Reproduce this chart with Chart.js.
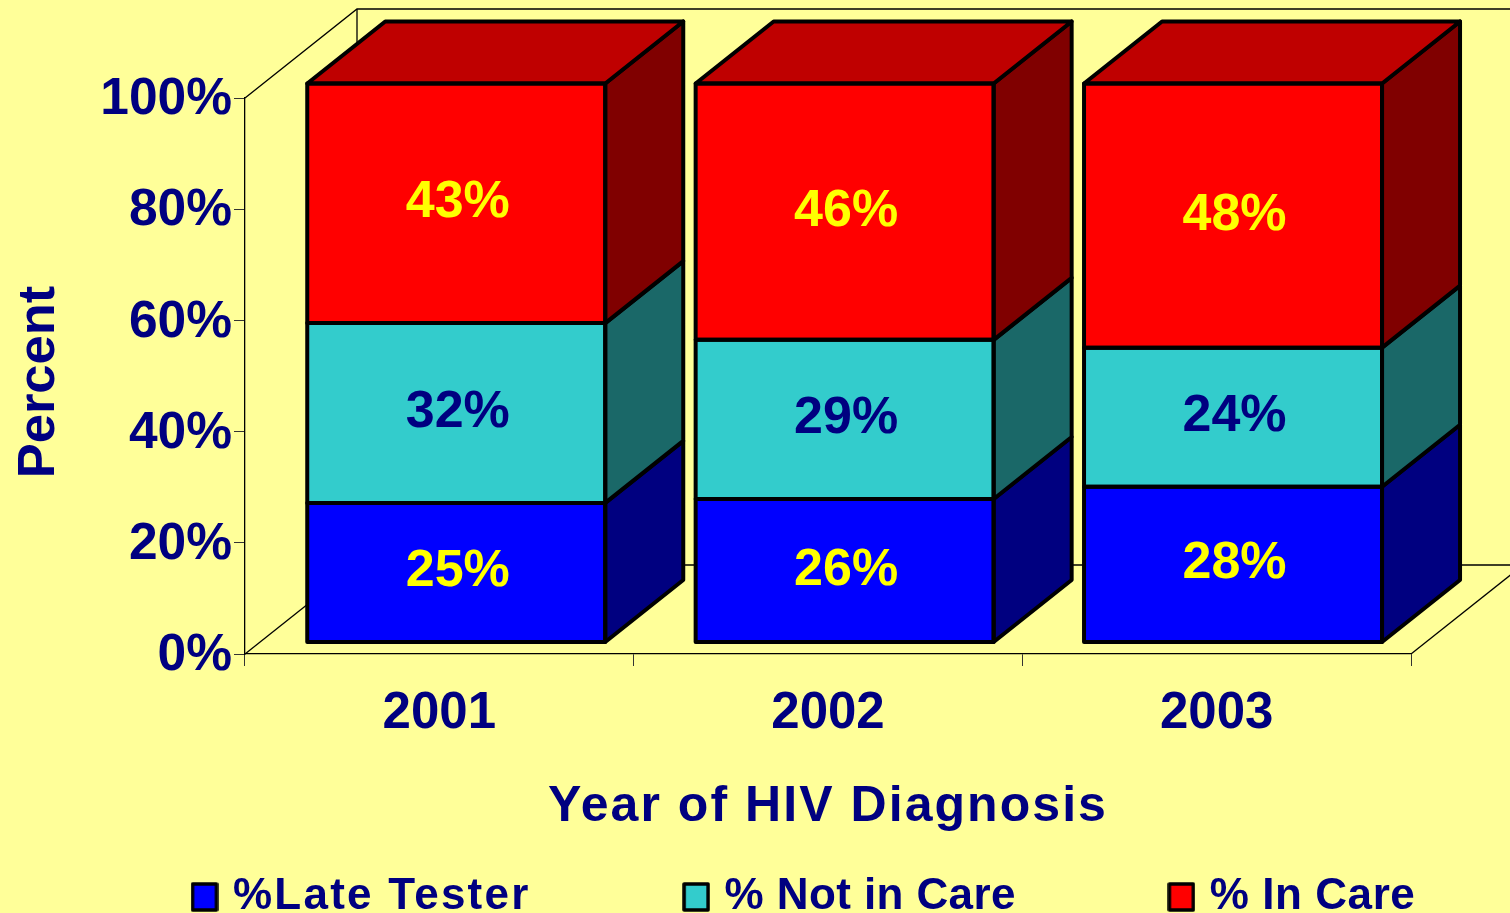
<!DOCTYPE html>
<html><head><meta charset="utf-8">
<style>html,body{margin:0;padding:0;background:#FFFF99;overflow:hidden}canvas{display:block}</style>
<script src="https://cdn.jsdelivr.net/npm/chart.js@4/dist/chart.umd.min.js"></script>
</head><body><canvas id="c" width="1510" height="913"></canvas>
<script>
const categories = ['2001', '2002', '2003'];
const yearValues = [2001, 2002, 2003];
const seriesNames = ['%Late Tester', '% Not in Care', '% In Care'];
const lateTester = [24.9, 25.6, 27.8];
const notInCare = [32.2, 28.5, 24.9];
const inCare = [42.9, 45.9, 47.3];
const lateLabels = ['25%', '26%', '28%'];
const notInCareLabels = ['32%', '29%', '24%'];
const inCareLabels = ['43%', '46%', '48%'];
const yTicks = [0, 20, 40, 60, 80, 100];

const NAVY = '#000080', FONT = '"Liberation Sans", Arial, sans-serif';
const faces = [
  {front:'#0000FF', side:'#000080', label:'#FFFF00', text:lateLabels},
  {front:'#33CCCC', side:'#1A6868', label:'#000080', text:notInCareLabels},
  {front:'#FF0000', side:'#800000', top:'#BF0000', label:'#FFFF00', text:inCareLabels}
];
const D = {x:78, y:-62};           // bar depth
const W = {x:112, y:-89};          // wall depth
const LEG_PAD = 159, TITLE_SPACING = '2.05px';
const legendSpacing = {'%Late Tester':'2.25px', '% Not in Care':'0.4px', '% In Care':'0.55px'};

const swatches = faces.map(f => {
  const c = document.createElement('canvas'); c.width = 28; c.height = 30;
  const g = c.getContext('2d');
  g.fillStyle = f.front; g.strokeStyle = '#000'; g.lineWidth = 3.5; g.lineJoin = 'round';
  g.fillRect(2, 2, 24, 26); g.strokeRect(2, 2, 24, 26);
  return c;
});
const points = arr => arr.map((v, i) => ({x: yearValues[i], y: v}));
const mk = (i, arr) => ({label: seriesNames[i], data: points(arr), backgroundColor: faces[i].front,
  borderWidth: 0, barThickness: 298, clip: false, xAxisID: 'xb', yAxisID: 'yb'});

function line(ctx, pts, close) {
  ctx.beginPath(); pts.forEach((p, i) => i ? ctx.lineTo(p[0], p[1]) : ctx.moveTo(p[0], p[1]));
  if (close) ctx.closePath();
}
const walls = {id:'walls', beforeDatasetsDraw(chart) {
  const {ctx, scales:{x, y}} = chart;
  const L = x.left, R = x.right, B = y.getPixelForValue(0), T = y.getPixelForValue(100);
  ctx.save(); ctx.strokeStyle = '#000'; ctx.lineWidth = 1.3;
  line(ctx, [[L, T], [L + W.x, T + W.y], [R + W.x, T + W.y]]); ctx.stroke();
  line(ctx, [[L + W.x, T + W.y], [L + W.x, B + W.y], [R + W.x, B + W.y]]); ctx.stroke();
  line(ctx, [[L, B], [L + W.x, B + W.y]]); ctx.stroke();
  line(ctx, [[R, B], [R + W.x, B + W.y]]); ctx.stroke();
  ctx.restore();
}};
const bars3d = {id:'bars3d', afterDatasetsDraw(chart) {
  const ctx = chart.ctx;
  ctx.save(); ctx.strokeStyle = '#000'; ctx.lineWidth = 4; ctx.lineJoin = 'round';
  chart.data.datasets.forEach((ds, d) => {
    chart.getDatasetMeta(d).data.forEach(b => {
      const l = b.x - b.width / 2, r = b.x + b.width / 2, t = b.y, bt = b.base, f = faces[d];
      line(ctx, [[r, t], [r + D.x, t + D.y], [r + D.x, bt + D.y], [r, bt]], true);
      ctx.fillStyle = f.side; ctx.fill(); ctx.stroke();
      if (f.top) {
        line(ctx, [[l, t], [l + D.x, t + D.y], [r + D.x, t + D.y], [r, t]], true);
        ctx.fillStyle = f.top; ctx.fill(); ctx.stroke();
      }
      line(ctx, [[l, t], [r, t], [r, bt], [l, bt]], true); ctx.stroke();
    });
  });
  ctx.font = 'bold 52px ' + FONT; ctx.textAlign = 'center'; ctx.textBaseline = 'alphabetic';
  chart.data.datasets.forEach((ds, d) => {
    chart.getDatasetMeta(d).data.forEach((b, i) => {
      ctx.fillStyle = faces[d].label;
      ctx.fillText(faces[d].text[i], b.x + 1.5, (b.y + b.base) / 2 + 14);
    });
  });
  ctx.restore();
}};
function withLegendSpacing(ctx, fn) {
  const proto = CanvasRenderingContext2D.prototype;
  ctx.measureText = t => { ctx.letterSpacing = legendSpacing[t] || '0px'; return proto.measureText.call(ctx, t); };
  ctx.fillText = (t, x, y) => { ctx.letterSpacing = legendSpacing[t] || '0px'; proto.fillText.call(ctx, t, x, y); };
  fn();
  delete ctx.measureText; delete ctx.fillText; ctx.letterSpacing = '0px';
}
const tweaks = {id:'tweaks',
  beforeInit(chart) {
    const lg = chart.legend, fit = lg.fit, draw = lg.draw;
    lg.fit = function () {
      this.maxWidth = 4000;
      withLegendSpacing(this.ctx, () => fit.call(this));
      this.width = 1510; this.height = 73;
    };
    lg.draw = function () { withLegendSpacing(this.ctx, () => draw.call(this)); };
  },
  afterLayout(chart) {
    const lg = chart.legend;
    lg.left = 198 - LEG_PAD; lg.right = 4000; lg.top = 897 - 22 - LEG_PAD;
    const {x, y} = chart.scales;
    if (!x._wrapped) {
      x._wrapped = true;
      const ox = x.drawTitle;
      x.drawTitle = function () { this.ctx.letterSpacing = TITLE_SPACING; ox.call(this); this.ctx.letterSpacing = '0px'; };
      const oy = y.drawTitle;
      y.drawTitle = function () { this.top += 6; this.bottom += 6; oy.call(this); this.top -= 6; this.bottom -= 6; };
    }
  }
};

Chart.defaults.font.family = FONT;
new Chart(document.getElementById('c'), {
  type: 'bar',
  data: {datasets: [mk(0, lateTester), mk(1, notInCare), mk(2, inCare)]},
  options: {
    responsive: false, animation: false, devicePixelRatio: 1,
    layout: {padding: {top: 98, right: 99, left: 0, bottom: 0}},
    plugins: {
      tooltip: {enabled: false},
      legend: {position: 'bottom', align: 'start', labels: {
        padding: LEG_PAD, color: NAVY, font: {size: 44, weight: 'bold', family: FONT},
        usePointStyle: true, pointStyleWidth: 13, boxHeight: 44,
        generateLabels: () => seriesNames.map((t, i) => ({text: t, pointStyle: swatches[i], fontColor: NAVY, datasetIndex: i, hidden: false}))
      }}
    },
    scales: {
      x: {type: 'category', labels: categories, position: 'bottom', offset: true,
        afterFit: s => { s.height = 186; },
        grid: {display: true, offset: true, drawOnChartArea: false, drawTicks: true, tickLength: 12, color: '#333', lineWidth: 1},
        border: {color: '#000', width: 1.3},
        ticks: {color: NAVY, padding: 17, maxRotation: 0, autoSkip: false, font: {size: 51, weight: 'bold', family: FONT}},
        title: {display: true, text: 'Year of HIV Diagnosis', color: NAVY, padding: {top: 0, bottom: 3}, font: {size: 50, weight: 'bold', family: FONT}}
      },
      y: {type: 'linear', position: 'left', min: 0, max: 100,
        afterFit: s => { s.width = 245; },
        afterBuildTicks: s => { s.ticks = yTicks.map(v => ({value: v})); },
        grid: {display: true, drawOnChartArea: false, drawTicks: true, tickLength: 11, color: '#333', lineWidth: 1},
        border: {color: '#000', width: 1.3},
        ticks: {color: NAVY, padding: 2, labelOffset: 2, callback: v => v + '%', font: {size: 51.5, weight: 'bold', family: FONT}},
        title: {display: true, text: 'Percent', color: NAVY, padding: {top: 8, bottom: 0}, font: {size: 52.5, weight: 'bold', family: FONT}}
      },
      xb: {type: 'linear', display: false, stacked: true, offset: false, position: 'bottom', min: 2000.4561, max: 2003.4582},
      yb: {type: 'linear', display: false, stacked: true, position: 'left', min: -2.1486, max: 97.40}
    }
  },
  plugins: [walls, bars3d, tweaks]
});
</script></body></html>
